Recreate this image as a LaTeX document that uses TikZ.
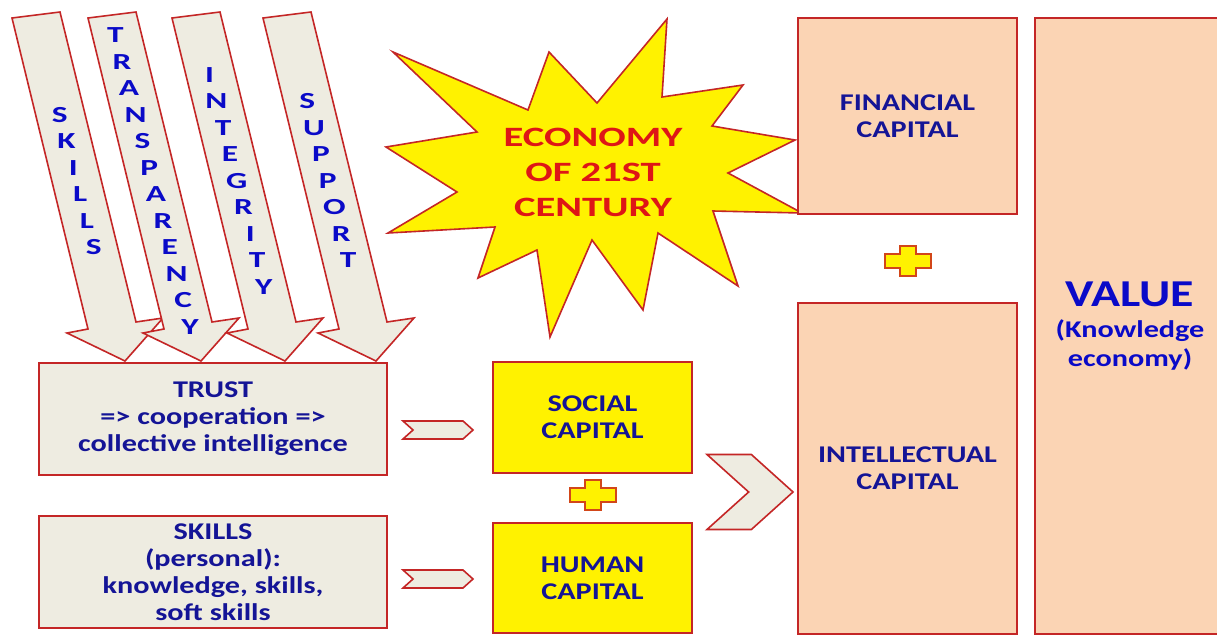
\documentclass[tikz,border=0pt]{standalone}
\usepackage{fontspec}
\setmainfont{Carlito}
\newfontfamily\boxfont{Carlito}[FakeStretch=1.26]
\newfontfamily\starfont{Carlito}[FakeStretch=1.45]
\usepackage{tikz}
\usetikzlibrary{shapes.symbols}
\definecolor{edgered}{RGB}{196,38,38}
\definecolor{boxgray}{RGB}{238,236,225}
\definecolor{salmon}{RGB}{251,212,180}
\definecolor{navy}{RGB}{20,20,150}
\definecolor{brightblue}{RGB}{10,10,200}
\definecolor{starred}{RGB}{222,22,22}
\definecolor{plusedge}{RGB}{210,70,25}
\tikzset{
  frame/.style={draw=edgered, line width=1.6pt},
  boxtext/.style={align=center, text=navy, font=\boxfont\bfseries\fontsize{24}{27}\selectfont},
  graybox/.style={frame, boxtext, fill=boxgray, minimum width=348pt, minimum height=112pt},
  yellowbox/.style={frame, boxtext, fill=yellow, minimum width=199pt, minimum height=111pt},
  capbox/.style={frame, boxtext, fill=salmon, minimum width=219pt},
  chev/.style={frame, fill=boxgray, shape=signal, signal to=east, signal from=west,
    signal pointer angle=84, inner sep=0pt},
  letter/.style={text=brightblue, inner sep=0pt, font=\starfont\bfseries\fontsize{23}{23}\selectfont},
  plussign/.pic={\draw[draw=plusedge, fill=yellow, line width=1.3pt]
    (-23,-7) -- (-8,-7) -- (-8,-15) -- (8,-15) -- (8,-7) -- (23,-7) -- (23,7)
    -- (8,7) -- (8,15) -- (-8,15) -- (-8,7) -- (-23,7) -- cycle;}
}

\begin{document}
\begin{tikzpicture}[x=1pt, y=-1pt]
\useasboundingbox[fill=white] (0,0) rectangle (1217,635);
% arrows into trust
\foreach \dx in {0,76,160,251}
  \draw[frame, fill=boxgray, shift={(\dx,0)}] (12,18) -- (60,12) -- (136,322) -- (163,318)
    -- (125,361) -- (67,333) -- (88,329) -- cycle;
\foreach \dx/\n/\word [count=\i] in {0/6/{S,K,I,L,L,S}, 76/12/{T,R,A,N,S,P,A,R,E,N,C,Y},
    160/9/{I,N,T,E,G,R,I,T,Y}, 251/7/{S,U,P,P,O,R,T}}
  \foreach \l [count=\k from 0] in \word
    \node[letter] (l\i-\k) at ({76.7+\dx+(\k-(\n-1)/2)*6.8}, {181+(\k-(\n-1)/2)*26.5}) {\l};
% star
\draw[frame, fill=yellow] (667,19) -- (662,97) -- (743,85) -- (712,126) -- (795,140) -- (728,173)
  -- (802,213) -- (713,211) -- (738,286) -- (658,233) -- (643,310) -- (592,240) -- (550,337)
  -- (537,250) -- (478,278) -- (495,227) -- (388,233) -- (457,192) -- (386,147) -- (477,132)
  -- (393,52) -- (528,110) -- (549,52) -- (597,103) -- cycle;
\node[align=center, text=starred, font=\starfont\bfseries\fontsize{28}{35}\selectfont]
  (economy) at (593,172) {ECONOMY\\OF 21ST\\CENTURY};
% left column
\node[graybox] (trust) at (213,419) {TRUST\\=> cooperation =>\\collective intelligence};
\node[graybox] (skills) at (213,572) {SKILLS\\(personal):\\knowledge, skills,\\soft skills};
\node[chev, minimum width=70pt, minimum height=18pt] (ch1) at (438,430) {};
\node[chev, minimum width=70pt, minimum height=18pt] (ch2) at (438,579) {};
% middle column
\node[yellowbox] (social) at (592.5,417.5) {SOCIAL\\CAPITAL};
\node[yellowbox, minimum height=110pt] (human) at (592.5,578) {HUMAN\\CAPITAL};
\pic at (593,495) {plussign};
\node[chev, minimum width=86pt, minimum height=75pt] (chbig) at (750,492) {};
% right column
\node[capbox, minimum height=196pt] (financial) at (907.5,116) {FINANCIAL\\CAPITAL};
\node[capbox, minimum height=331pt] (intellectual) at (907.5,468.5) {INTELLECTUAL\\CAPITAL};
\pic at (908,261) {plussign};
\node[frame, fill=salmon, minimum width=190pt, minimum height=616pt, align=center, text=brightblue,
  font=\boxfont\bfseries\fontsize{24}{29}\selectfont] (value) at (1130,326)
  {{\fontsize{38}{40}\selectfont VALUE}\\[2pt](Knowledge\\economy)};
\end{tikzpicture}
\end{document}
